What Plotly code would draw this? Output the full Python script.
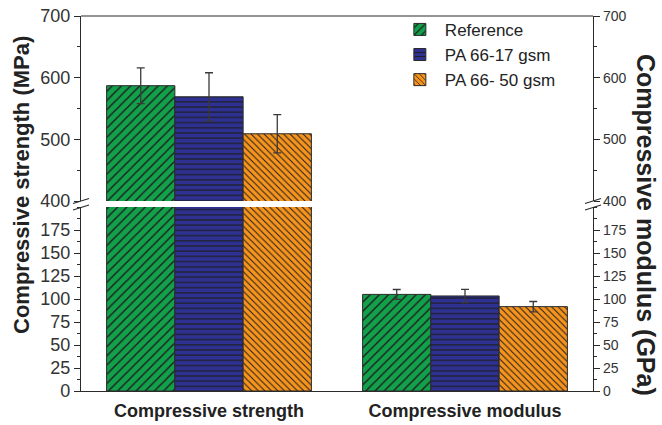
import plotly.graph_objects as go

# ---- data ----
categories = ["Compressive strength", "Compressive modulus"]
series_names = ["Reference", "PA 66-17 gsm", "PA 66- 50 gsm"]
reference_vals = [587, 105]
reference_err = [29, 5.3]
pa17_vals = [569, 103.3]
pa17_err = [39, 7.2]
pa50_vals = [509, 91.7]
pa50_err = [31, 5.6]

lower_ticks = [0, 25, 50, 75, 100, 125, 150, 175]
upper_ticks = [400, 500, 600, 700]

colors = ["#12a04b", "#2e3192", "#f7941d"]
patterns = ["/", "-", "\\"]
pat_sizes = [6.5, 5.2, 4.6]
values = [reference_vals, pa17_vals, pa50_vals]
errors = [reference_err, pa17_err, pa50_err]

FONT = "Liberation Sans, Arial, sans-serif"
AX = "#2b2b2b"

fig = go.Figure()
for yref, show in (("y", False), ("y2", True)):
    for name, v, e, c, p, s in zip(series_names, values, errors, colors, patterns, pat_sizes):
        fig.add_trace(go.Bar(
            x=categories, y=v, name=name, yaxis=yref, showlegend=show,
            marker=dict(color=c, line=dict(color="#2a2a2a", width=1),
                        pattern=dict(shape=p, size=s, solidity=0.22,
                                     fgcolor="#1e1e1e", fgopacity=1)),
            error_y=dict(type="data", array=e, visible=True, color="#3a3a3a",
                         thickness=1.3, width=4),
        ))

# invisible companions so the right-hand (mirrored) axes get drawn
for yref in ("y3", "y4"):
    fig.add_trace(go.Scatter(x=categories, y=reference_vals, yaxis=yref,
                             mode="none", showlegend=False, hoverinfo="skip"))

lower_dom = [0, 184 / 375]
upper_dom = [190 / 375, 1]

ax_common = dict(showline=True, linecolor=AX, linewidth=1.2, ticks="outside",
                 tickcolor=AX, tickwidth=1.2, ticklen=6, showgrid=False,
                 zeroline=False, automargin=False)

fig.update_layout(
    width=662, height=425,
    margin=dict(l=81, r=69, t=16, b=34, autoexpand=False),
    paper_bgcolor="white", plot_bgcolor="white",
    barmode="group", bargap=0.2, bargroupgap=0,
    font=dict(family=FONT, color="#222"),
    xaxis=dict(anchor="y", showline=True, linecolor=AX, linewidth=1.2,
               ticks="", range=[-0.5, 1.5], showgrid=False, automargin=False,
               ticklabelstandoff=3,
               tickfont=dict(size=18, family=FONT, color="#222", weight="bold")),
    yaxis=dict(domain=lower_dom, range=[0, 200], tickmode="array",
               tickvals=lower_ticks, tickfont=dict(size=18, color="#333"),
               minor=dict(ticks="outside", ticklen=3, tickcolor=AX,
                          tickwidth=1, dtick=12.5, tick0=0),
               anchor="x", **ax_common),
    yaxis2=dict(domain=upper_dom, range=[400, 700], tickmode="array",
                tickvals=upper_ticks, tickfont=dict(size=18, color="#333"),
                minor=dict(ticks="outside", ticklen=3, tickcolor=AX,
                           tickwidth=1, dtick=50, tick0=400),
                anchor="x", **ax_common),
    yaxis3=dict(domain=lower_dom, range=[0, 200], overlaying="y", side="right",
                tickmode="array", tickvals=lower_ticks,
                tickfont=dict(size=14, color="#333"),
                minor=dict(ticks="outside", ticklen=3, tickcolor=AX,
                           tickwidth=1, dtick=12.5, tick0=0),
                anchor="x", **ax_common),
    yaxis4=dict(domain=upper_dom, range=[400, 700], overlaying="y2", side="right",
                tickmode="array", tickvals=upper_ticks,
                tickfont=dict(size=14, color="#333"),
                minor=dict(ticks="outside", ticklen=3, tickcolor=AX,
                           tickwidth=1, dtick=50, tick0=400),
                anchor="x", **ax_common),
    legend=dict(x=0.613, y=1.011, xanchor="left", yanchor="top",
                bgcolor="rgba(0,0,0,0)", font=dict(size=17, color="#222"),
                traceorder="normal", itemwidth=40, tracegroupgap=0),
)

# top frame line
fig.add_shape(type="line", xref="paper", yref="paper", x0=0, x1=1, y0=1, y1=1,
              line=dict(color=AX, width=1.2))

# axis break marks (pixel-sized, anchored at the gap)
gap_mid = (184 / 375 + 190 / 375) / 2
for xa in (0, 1):
    for (ya, yb) in ((0.5, 5.5), (-6, -1)):
        fig.add_shape(type="line", xref="paper", yref="paper",
                      xsizemode="pixel", xanchor=xa, ysizemode="pixel",
                      yanchor=gap_mid, x0=-8, x1=8, y0=ya, y1=yb,
                      line=dict(color=AX, width=1.2))

# axis titles
fig.add_annotation(text="<b>Compressive strength (MPa)</b>", xref="paper",
                   yref="paper", x=(21 - 81) / 512, y=1 - (185 - 16) / 375,
                   xanchor="center", yanchor="middle",
                   textangle=-90, showarrow=False, font=dict(size=22, color="#222"))
fig.add_annotation(text="<b>Compressive modulus (GPa)</b>", xref="paper",
                   yref="paper", x=(646 - 81) / 512, y=1 - (225 - 16) / 375,
                   xanchor="center", yanchor="middle",
                   textangle=90, showarrow=False, font=dict(size=25, color="#222"))

fig.write_html("out.html")
